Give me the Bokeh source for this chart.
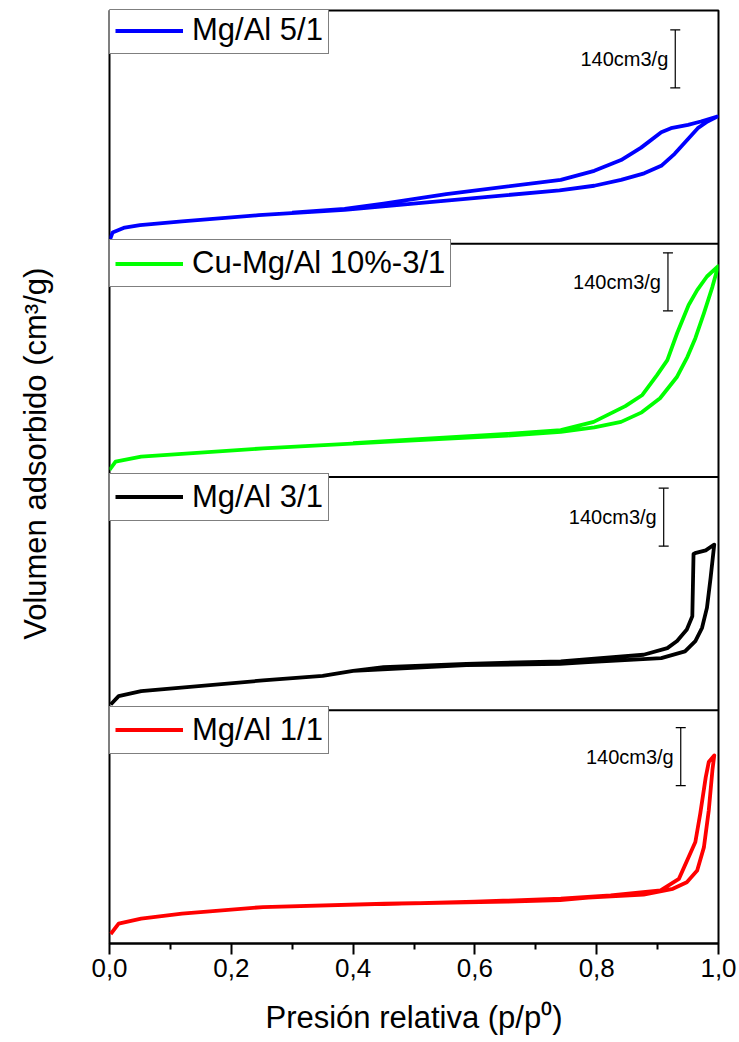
import math
from bokeh.plotting import figure
from bokeh.layouts import row
from bokeh.models import (Range1d, LinearAxis, FixedTicker, CustomJSTickFormatter,
                          Span, Legend, LegendItem)
from bokeh.core.properties import value
from bokeh.embed import file_html
from bokeh.resources import INLINE

# ---------------- data ----------------
samples = ["Mg/Al 5/1", "Cu-Mg/Al 10%-3/1", "Mg/Al 3/1", "Mg/Al 1/1"]
colors = ["#0000FF", "#00FF00", "#000000", "#FF0000"]

# Mg/Al 5/1 (blue)
blue_ads_p = [0.000, 0.005, 0.025, 0.05, 0.119, 0.245, 0.386, 0.553, 0.739, 0.796, 0.840,
              0.878, 0.906, 0.928, 0.950, 0.966, 0.982, 0.998]
blue_ads_v = [7, 27, 39, 45, 54, 69, 82, 104, 129, 140, 154, 170, 188, 217, 253, 279, 295, 307]
blue_des_p = [0.998, 0.971, 0.950, 0.922, 0.906, 0.873, 0.840, 0.796, 0.741, 0.553, 0.45,
              0.386, 0.30]
blue_des_v = [307, 295, 287, 279, 269, 232, 202, 176, 154, 120, 97, 84, 75]

# Cu-Mg/Al 10%-3/1 (green)
green_ads_p = [0.000, 0.010, 0.052, 0.252, 0.452, 0.653, 0.741, 0.796, 0.840, 0.874, 0.904,
               0.932, 0.949, 0.962, 0.976, 0.990, 0.9995]
green_ads_v = [17, 37, 49, 69, 85, 100, 109, 120, 133, 156, 190, 242, 290, 335, 395, 459, 509]
green_des_p = [0.9995, 0.981, 0.965, 0.951, 0.932, 0.916, 0.899, 0.875, 0.847, 0.795, 0.741,
               0.653, 0.50, 0.40]
green_des_v = [509, 484, 451, 415, 347, 282, 246, 198, 171, 133, 113, 104, 91, 82]

# Mg/Al 3/1 (black)
black_ads_p = [0.002, 0.015, 0.052, 0.252, 0.35, 0.40, 0.586, 0.74, 0.786, 0.906, 0.945,
               0.962, 0.973, 0.981, 0.987, 0.993]
black_ads_v = [14, 34, 46, 72, 83, 95, 109, 112, 116, 126, 142, 167, 199, 247, 319, 400]
black_des_p = [0.993, 0.979, 0.963, 0.959, 0.957, 0.948, 0.932, 0.916, 0.877, 0.741, 0.586,
               0.45, 0.40]
black_des_v = [400, 386, 380, 377, 227, 195, 167, 150, 134, 118, 112, 104, 95]

# Mg/Al 1/1 (red)
red_ads_p = [0.002, 0.015, 0.052, 0.119, 0.252, 0.452, 0.653, 0.74, 0.786, 0.877, 0.925,
             0.948, 0.965, 0.976, 0.984, 0.990, 0.993]
red_ads_v = [23, 48, 60, 72, 88, 96, 101, 105, 111, 118, 132, 148, 176, 232, 321, 418, 454]
red_des_p = [0.993, 0.984, 0.979, 0.970, 0.962, 0.935, 0.905, 0.823, 0.741, 0.60, 0.45]
red_des_v = [454, 438, 401, 313, 245, 156, 128, 116, 108, 101, 95]

ads_p = [blue_ads_p, green_ads_p, black_ads_p, red_ads_p]
ads_v = [blue_ads_v, green_ads_v, black_ads_v, red_ads_v]
des_p = [blue_des_p, green_des_p, black_des_p, red_des_p]
des_v = [blue_des_v, green_des_v, black_des_v, red_des_v]

scale_value = 140  # cm3/g
scale_label = "140cm3/g"
x_ticks = [0.0, 0.2, 0.4, 0.6, 0.8, 1.0]
x_minor = [0.1, 0.3, 0.5, 0.7, 0.9]
x_title = "Presión relativa (p/p⁰)"
y_title = "Volumen adsorbido (cm³/g)"

# ---------------- layout / style constants ----------------
W, H = 739, 1042
SIDE_W = 74                  # strip holding the y title
LEFT, RIGHT, TOP, BOTTOM = 109 - SIDE_W, 21, 10, 99
R = 563.0                    # data units per panel
FRAME_H = H - TOP - BOTTOM
PH = FRAME_H / 4.0
bar_x = [0.929, 0.917, 0.910, 0.938]
bar_y0 = [376, 401, 396, 381]
FONT = "Liberation Sans"
YT_X, YT_Y = 35, H - 458 - 37

# ----- left strip with the y-axis title -----
side = figure(width=SIDE_W, height=H, x_range=Range1d(0, SIDE_W), y_range=Range1d(0, H),
              output_backend="svg", toolbar_location=None,
              x_axis_location=None, y_axis_location=None,
              min_border=0)
side.grid.visible = False
side.outline_line_color = None
side.border_fill_color = "white"
side.background_fill_color = "white"
side.text(x=[YT_X], y=[YT_Y], text=[y_title], angle=math.pi / 2,
          text_font=value(FONT), text_font_size=value("31px"), text_color="black",
          text_align="center", text_baseline="middle")

# ----- main plot -----
p = figure(width=W - SIDE_W, height=H, x_range=Range1d(0, 1), y_range=Range1d(0, 4 * R),
           output_backend="svg", toolbar_location=None,
           x_axis_location=None, y_axis_location=None,
           min_border_left=LEFT, min_border_right=RIGHT,
           min_border_top=TOP, min_border_bottom=BOTTOM)
p.grid.visible = False
p.outline_line_color = "black"
p.outline_line_width = 2
p.background_fill_color = "white"
p.border_fill_color = "white"

n = len(samples)
for i in range(n):
    b = n - 1 - i  # panel index from bottom
    name = "default" if b == 0 else f"panel{b}"
    if b != 0:
        p.extra_y_ranges[name] = Range1d(-b * R, (4 - b) * R)
    xs = list(ads_p[i]) + list(des_p[i])
    ys = list(ads_v[i]) + list(des_v[i])
    r = p.line(xs, ys, line_color=colors[i], line_width=3.8, line_join="round",
               y_range_name=name)
    # scale bar
    p.segment(x0=[bar_x[i]], y0=[bar_y0[i]], x1=[bar_x[i]], y1=[bar_y0[i] + scale_value],
              line_color="black", line_width=1.2, y_range_name=name)
    p.scatter(x=[bar_x[i], bar_x[i]], y=[bar_y0[i], bar_y0[i] + scale_value],
              marker="dash", size=10, line_color="black", line_width=1.2,
              y_range_name=name)
    p.text(x=[bar_x[i]], y=[bar_y0[i] + scale_value / 2], text=[scale_label],
           text_font=value(FONT), text_font_size=value("20px"), text_color="black",
           text_align="right", text_baseline="middle", x_offset=-7,
           y_range_name=name)
    leg = Legend(items=[LegendItem(label=samples[i], renderers=[r])],
                 location=(0, (b + 1) * PH - 44),
                 margin=0, padding=5, spacing=0,
                 glyph_width=68, glyph_height=33, label_height=33, label_standoff=9,
                 label_text_font=FONT, label_text_font_size="31px",
                 label_text_color="black",
                 border_line_color="black", border_line_width=1,
                 background_fill_color="white", background_fill_alpha=1.0)
    p.add_layout(leg)
    if b > 0:
        p.add_layout(Span(location=b * R, dimension="width", line_color="black",
                          line_width=2))

xaxis = LinearAxis(ticker=FixedTicker(ticks=x_ticks, minor_ticks=x_minor),
                   formatter=CustomJSTickFormatter(code="return tick.toFixed(1).replace('.', ',');"),
                   axis_label=x_title)
xaxis.axis_line_width = 2
xaxis.major_tick_line_width = 2
xaxis.minor_tick_line_width = 2
xaxis.major_tick_in = 0
xaxis.major_tick_out = 11
xaxis.minor_tick_in = 0
xaxis.minor_tick_out = 6
xaxis.major_label_text_font = FONT
xaxis.major_label_text_font_size = "26px"
xaxis.major_label_text_color = "black"
xaxis.major_label_standoff = 4
xaxis.axis_label_text_font = FONT
xaxis.axis_label_text_font_size = "31px"
xaxis.axis_label_text_font_style = "normal"
xaxis.axis_label_text_color = "black"
xaxis.axis_label_standoff = 20
p.add_layout(xaxis, "below")

layout = row(side, p, spacing=0)
open("out.html", "w").write(file_html(layout, INLINE))
